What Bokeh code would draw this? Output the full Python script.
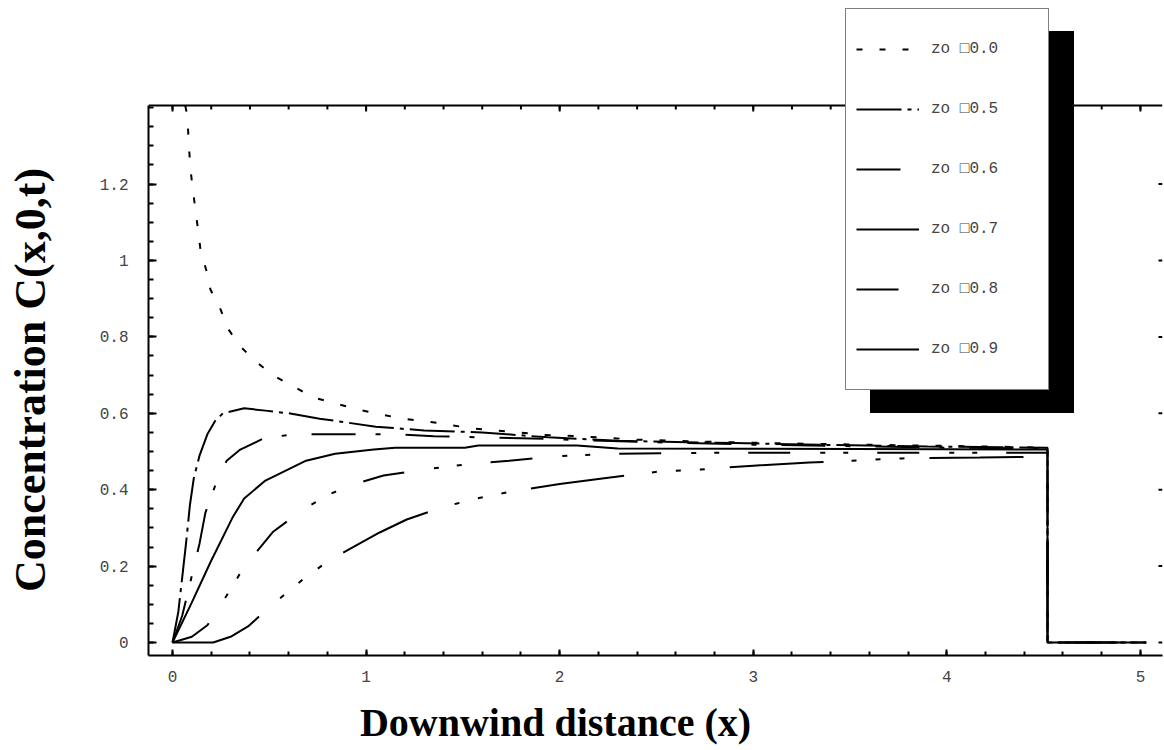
from bokeh.plotting import figure
from bokeh.models import (Range1d, Legend, LegendItem, FixedTicker,
                          PrintfTickFormatter, Span)
from bokeh.embed import file_html
from bokeh.resources import INLINE

# ---------------- data ----------------
x_z00 = [0.066, 0.072, 0.080, 0.086, 0.093, 0.105, 0.119, 0.133, 0.145, 0.175, 0.196,
         0.248, 0.29, 0.35, 0.43, 0.52, 0.625, 0.73, 0.847, 0.96, 1.075, 1.19, 1.31,
         1.43, 1.55, 1.67, 1.79, 1.92, 2.1, 2.4, 2.8, 3.3, 3.8, 4.24, 4.52, 4.52, 5.03]
y_z00 = [1.405, 1.390, 1.346, 1.29, 1.238, 1.186, 1.131, 1.076, 1.026, 0.974, 0.924,
         0.872, 0.819, 0.775, 0.736, 0.699, 0.670, 0.641, 0.625, 0.610, 0.597, 0.586, 0.579,
         0.570, 0.560, 0.555, 0.550, 0.543, 0.540, 0.531, 0.525, 0.520, 0.516, 0.513, 0.510, 0.0, 0.0]

x_z05 = [0.0, 0.03, 0.05, 0.07, 0.09, 0.11, 0.14, 0.18, 0.22, 0.26, 0.37, 0.48, 0.60,
         0.76, 1.05, 1.30, 1.60, 1.94, 2.30, 2.90, 3.40, 3.90, 4.52, 4.52, 5.03]
y_z05 = [0.0, 0.08, 0.17, 0.26, 0.36, 0.43, 0.49, 0.545, 0.58, 0.60, 0.613, 0.607, 0.60,
         0.586, 0.565, 0.555, 0.550, 0.537, 0.528, 0.522, 0.517, 0.513, 0.510, 0.0, 0.0]

x_z06 = [0.0, 0.05, 0.10, 0.14, 0.17, 0.22, 0.28, 0.35, 0.47, 0.62, 0.80, 1.00, 1.16,
         1.35, 1.60, 1.80, 2.10, 2.50, 3.00, 3.50, 4.00, 4.52, 4.52, 5.03]
y_z06 = [0.0, 0.07, 0.175, 0.26, 0.34, 0.41, 0.476, 0.505, 0.534, 0.545, 0.545, 0.545, 0.545,
         0.540, 0.537, 0.535, 0.530, 0.524, 0.518, 0.514, 0.510, 0.508, 0.0, 0.0]

x_z07 = [0.0, 0.10, 0.196, 0.31, 0.37, 0.48, 0.69, 0.84, 1.04, 1.15, 1.51, 1.58, 2.09,
         2.30, 3.00, 4.00, 4.52, 4.52, 5.03]
y_z07 = [0.0, 0.105, 0.21, 0.327, 0.377, 0.424, 0.476, 0.494, 0.505, 0.51, 0.51, 0.516, 0.516,
         0.508, 0.507, 0.506, 0.505, 0.0, 0.0]

x_z08 = [0.0, 0.10, 0.18, 0.28, 0.36, 0.43, 0.52, 0.68, 0.82, 0.93, 1.09, 1.30, 1.50,
         1.74, 1.96, 2.25, 2.62, 3.00, 3.50, 4.00, 4.52, 4.52, 5.03]
y_z08 = [0.0, 0.015, 0.045, 0.123, 0.19, 0.235, 0.29, 0.35, 0.39, 0.413, 0.437, 0.453, 0.465,
         0.476, 0.487, 0.494, 0.496, 0.497, 0.497, 0.497, 0.497, 0.0, 0.0]

x_z09 = [0.0, 0.21, 0.30, 0.39, 0.50, 0.68, 0.81, 1.07, 1.21, 1.37, 1.47, 1.59, 1.75,
         2.00, 2.23, 2.52, 2.73, 3.00, 3.29, 3.77, 4.17, 4.52, 4.52, 5.03]
y_z09 = [0.0, 0.0, 0.015, 0.042, 0.092, 0.168, 0.215, 0.288, 0.322, 0.35, 0.364, 0.379, 0.395,
         0.415, 0.43, 0.448, 0.453, 0.463, 0.471, 0.482, 0.484, 0.487, 0.0, 0.0]

series_labels = ["zo \u25a10.0", "zo \u25a10.5", "zo \u25a10.6",
                 "zo \u25a10.7", "zo \u25a10.8", "zo \u25a10.9"]
series_x = [x_z00, x_z05, x_z06, x_z07, x_z08, x_z09]
series_y = [y_z00, y_z05, y_z06, y_z07, y_z08, y_z09]
series_dash = ["6 17", "45 6 4 6", "44 20 5 25", "solid", "42 30 5 18 5 29",
               "94 28 5 19 5 19 5 25"]

x_ticks = [0, 1, 2, 3, 4, 5]
x_minor = [round(i * 0.2, 2) for i in range(0, 26)]
y_ticks = [0, 0.2, 0.4, 0.6, 0.8, 1.0, 1.2]
y_minor = [round(i * 0.05, 2) for i in range(0, 29)]

x_title = "Downwind distance (x)"
y_title = "Concentration C(x,0,t)"

# ---------------- layout constants ----------------
X_START, X_END = -0.124, 5.114
Y_START, Y_END = -0.034, 1.6675
Y_TOP = 1.4058          # upper border of the plotting box
PX_X = 193.6            # pixels per x unit
PX_Y = 382.0            # pixels per y unit
NBSP = "\u00a0"

p = figure(width=1164, height=750, output_backend="svg", toolbar_location=None,
           x_range=Range1d(X_START, X_END), y_range=Range1d(Y_START, Y_END),
           min_border_left=148, min_border_top=5, min_border_bottom=95,
           min_border_right=2)
p.outline_line_color = None
p.xgrid.visible = False
p.ygrid.visible = False
p.background_fill_color = "white"
p.border_fill_color = "white"

TICK_FONT = "Liberation Mono"
TICK_COLOR = "#444444"


def style_axis(ax, tin, min_in):
    ax.axis_line_width = 2
    ax.axis_line_color = "black"
    ax.major_tick_in = tin
    ax.major_tick_out = 0
    ax.minor_tick_in = min_in
    ax.minor_tick_out = 0
    ax.major_tick_line_width = 2
    ax.minor_tick_line_width = 2
    ax.major_label_text_font = TICK_FONT
    ax.major_label_text_color = TICK_COLOR
    ax.major_label_text_font_size = "16px"
    ax.formatter = PrintfTickFormatter(format="%g")
    ax.axis_label_text_font = "Liberation Serif"
    ax.axis_label_text_font_style = "bold"
    ax.axis_label_text_color = "black"


xb = p.xaxis[0]
xb.ticker = FixedTicker(ticks=x_ticks, minor_ticks=x_minor)
style_axis(xb, 6, 4)
xb.major_label_standoff = 15
xb.axis_label = x_title + NBSP * 20
xb.axis_label_standoff = 15
xb.axis_label_text_font_size = "40px"

yl = p.yaxis[0]
yl.ticker = FixedTicker(ticks=y_ticks, minor_ticks=y_minor)
style_axis(yl, 8, 5)
yl.major_label_standoff = 20
yl.bounds = (Y_START, Y_TOP)
yl.axis_label = y_title + NBSP * 9
yl.axis_label_standoff = 42
yl.axis_label_text_font_size = "44px"

# top border of the plotting box with inward ticks
p.add_layout(Span(location=Y_TOP, dimension="width", line_color="black", line_width=2))
p.segment(x0=x_minor, y0=[Y_TOP] * len(x_minor), x1=x_minor,
          y1=[Y_TOP - 4 / PX_Y] * len(x_minor), line_color="black", line_width=2)
p.segment(x0=x_ticks, y0=[Y_TOP] * len(x_ticks), x1=x_ticks,
          y1=[Y_TOP - 6 / PX_Y] * len(x_ticks), line_color="black", line_width=2)
# right side ticks
p.segment(x0=[X_END] * len(y_ticks), y0=y_ticks, x1=[X_END - 4 / PX_X] * len(y_ticks),
          y1=y_ticks, line_color="black", line_width=2)

renderers = []
for xs, ys, dash in zip(series_x, series_y, series_dash):
    r = p.line(xs, ys, line_color="black", line_width=2, line_dash=dash)
    renderers.append(r)


def make_legend(bg, loc, txt_color):
    return Legend(items=[LegendItem(label=l, renderers=[r])
                         for l, r in zip(series_labels, renderers)],
                  location=loc, orientation="vertical",
                  glyph_width=63, glyph_height=60, label_height=60, label_width=107,
                  label_standoff=12, spacing=0, padding=10, margin=0,
                  label_text_font=TICK_FONT, label_text_font_size="16px",
                  label_text_color=txt_color, label_text_baseline="middle",
                  background_fill_color=bg, background_fill_alpha=1.0,
                  border_line_color="black", border_line_width=1.5,
                  click_policy="none")


p.add_layout(make_legend("black", (722, 242), "black"), "center")
p.add_layout(make_legend("white", (697, 265), TICK_COLOR), "center")

open("out.html", "w").write(file_html(p, INLINE))
